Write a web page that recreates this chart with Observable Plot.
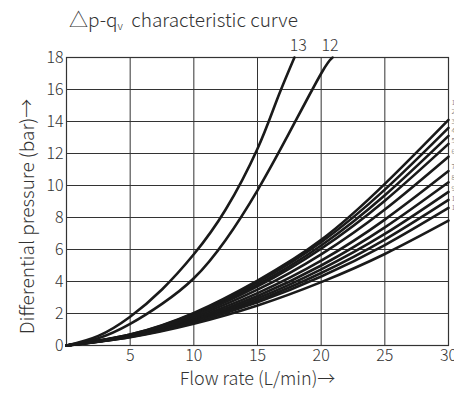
<!DOCTYPE html>
<html>
<head>
<meta charset="utf-8">
<script src="https://cdn.jsdelivr.net/npm/d3@7"></script>
<script src="https://cdn.jsdelivr.net/npm/@observablehq/plot@0.6"></script>
<style>
  html, body { margin: 0; padding: 0; background: #fff; }
  body { width: 454px; height: 398px; overflow: hidden; font-family: "Noto Sans CJK SC", "Noto Sans", sans-serif; }
  #title { height: 36px; box-sizing: border-box; padding: 7px 0 0 69px; font-size: 19px; font-weight: 300; color: #333; line-height: 24px; white-space: nowrap; }
  #title sub { font-size: 11px; vertical-align: -3px; line-height: 0; }
</style>
</head>
<body>
<div id="title">△p-q<sub>v</sub>&nbsp; characteristic curve</div>
<div id="chart"></div>
<script>
// Flow-rate sample points for the bundle of curves (L/min)
const qGrid = [0, 5, 10, 15, 20, 25, 30];
// Differential pressure (bar) of the 11 lower curves, top to bottom
const curve1  = [0, 0.69, 2.04, 4.06, 6.60, 10.1, 14.1];
const curve2  = [0, 0.68, 1.99, 3.94, 6.45, 9.74, 13.6];
const curve3  = [0, 0.66, 1.93, 3.81, 6.25, 9.39, 13.1];
const curve4  = [0, 0.65, 1.88, 3.69, 6.05, 9.05, 12.6];
const curve5  = [0, 0.63, 1.79, 3.49, 5.70, 8.50, 11.8];
const curve6  = [0, 0.61, 1.70, 3.27, 5.30, 7.87, 10.9];
const curve7  = [0, 0.58, 1.61, 3.09, 5.00, 7.38, 10.2];
const curve8  = [0, 0.57, 1.56, 2.95, 4.76, 6.97, 9.6];
const curve9  = [0, 0.56, 1.50, 2.82, 4.53, 6.62, 9.1];
const curve10 = [0, 0.54, 1.44, 2.70, 4.31, 6.28, 8.6];
const curve11 = [0, 0.52, 1.36, 2.50, 3.96, 5.72, 7.8];
const bundle = [curve1, curve2, curve3, curve4, curve5, curve6, curve7, curve8, curve9, curve10, curve11];

// The two steep curves
const curve12Q = [0, 2.5, 5, 7.5, 10, 12.5, 15, 17.5, 20, 20.9];
const curve12P = [0, 0.45, 1.35, 2.6, 4.2, 6.6, 9.7, 13.3, 17.0, 18];
const curve13Q = [0, 2.5, 5, 7.5, 10, 12.5, 15, 16.5, 17.9];
const curve13P = [0, 0.6, 1.8, 3.5, 5.7, 8.5, 12.3, 15.3, 18];

// Labels at the top of the steep curves
const topLabels = ["13", "12"];
const topLabelQ = [18.2, 20.7];

// Labels at the right edge for the bundle (mostly cut off by the page edge)
const sideLabels = ["1", "2", "3", "4", "5", "6", "7", "8", "9", "10", "11"];
const sideLabelP = [15.2, 14.6, 14.0, 13.4, 12.8, 12.1, 11.2, 10.5, 9.8, 9.2, 8.6];

// Axis ticks
const xTicks = [5, 10, 15, 20, 25, 30];
const yTicks = [0, 2, 4, 6, 8, 10, 12, 14, 16, 18];
const xGrid = [5, 10, 15, 20, 25];
const yGrid = [2, 4, 6, 8, 10, 12, 14, 16];

const rows = [];
bundle.forEach((arr, i) => arr.forEach((p, j) => rows.push({series: "c" + (i + 1), q: qGrid[j], p})));
curve12Q.forEach((q, j) => rows.push({series: "c12", q, p: curve12P[j]}));
curve13Q.forEach((q, j) => rows.push({series: "c13", q, p: curve13P[j]}));

const fontFam = '"Noto Sans CJK SC", "Noto Sans", sans-serif';

const plot = Plot.plot({
  width: 454,
  height: 362,
  marginTop: 21,
  marginBottom: 53,
  marginLeft: 66,
  marginRight: 6,
  style: {fontFamily: fontFam, fontSize: "16px", fontWeight: 300, color: "#333", background: "transparent", overflow: "visible"},
  x: {domain: [0, 30]},
  y: {domain: [0, 18]},
  marks: [
    Plot.ruleX(xGrid, {stroke: "#333", strokeWidth: 1}),
    Plot.ruleY(yGrid, {stroke: "#333", strokeWidth: 1}),
    Plot.frame({stroke: "#333", strokeWidth: 1.2}),
    Plot.axisX({ticks: xTicks, tickSize: 0, tickPadding: 4, label: null, fontSize: 16}),
    Plot.axisY({ticks: yTicks, tickSize: 0, tickPadding: 3, label: null, fontSize: 16}),
    Plot.line(rows, {x: "q", y: "p", z: "series", stroke: "#1a1a1a", strokeWidth: 2.6, curve: "natural"}),
    Plot.text(topLabels, {x: (d, i) => topLabelQ[i], y: 18, text: d => d, dy: -12, fontSize: 16, fill: "#333"}),
    Plot.text(sideLabels, {x: 30, y: (d, i) => sideLabelP[i], text: d => d, dx: 3, textAnchor: "start", fontSize: 7, fill: "#555"}),
    Plot.text(["Flow rate (L/min)→"], {frameAnchor: "bottom", dy: 39, fontSize: 18, fill: "#333"}),
    Plot.text(["Differential pressure (bar)→"], {frameAnchor: "left", dx: -39, dy: 15, rotate: -90, textAnchor: "middle", fontSize: 19, fill: "#333"})
  ]
});
document.getElementById("chart").appendChild(plot);
</script>
</body>
</html>
